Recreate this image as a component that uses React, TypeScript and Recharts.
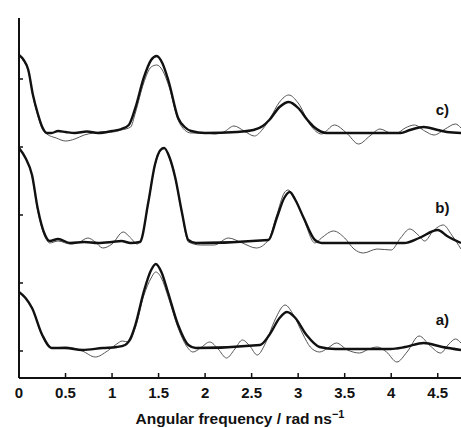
import * as React from "react";
import { Line, LineChart, ReferenceDot, XAxis, YAxis } from "recharts";

// Three stacked spectra (a, b, c): thick = fit, thin = raw transform.
// y is arbitrary intensity; each trace sits on its own baseline.
const xTicks = [0, 0.5, 1, 1.5, 2, 2.5, 3, 3.5, 4, 4.5];
const yTicks = [27, 95, 163, 231, 299];

const baselineA = 30;
const baselineB = 135;
const baselineC = 245;

type Pt = [number, number];

const cThick: Pt[] = [
  [0, 78], [0.05, 73], [0.1, 63], [0.15, 38], [0.2, 20], [0.25, 6], [0.3, 0],
  [0.35, 0], [0.42, 2], [0.5, 1], [0.6, 0], [0.73, 1.5], [0.85, 0], [1.0, 2],
  [1.1, 4], [1.18, 8], [1.25, 25], [1.34, 55], [1.42, 73], [1.48, 77], [1.54, 70],
  [1.61, 51], [1.71, 15], [1.78, 6], [1.85, 2], [2.0, 0], [2.34, 1], [2.52, 3],
  [2.62, 7], [2.69, 13], [2.8, 26], [2.9, 31], [3.0, 25], [3.1, 13], [3.17, 6],
  [3.31, 0], [4.1, 0], [4.2, 3], [4.35, 6], [4.5, 3], [4.6, 1], [4.75, 0],
];

const cThin: Pt[] = [
  [0, 78], [0.05, 72], [0.1, 62], [0.15, 37], [0.2, 18], [0.25, 4], [0.3, -1],
  [0.4, -5], [0.5, -8], [0.6, -6], [0.7, -2], [0.8, 0], [0.9, 1], [1.0, 1],
  [1.1, 3], [1.2, 6], [1.25, 20], [1.34, 50], [1.42, 66], [1.48, 68], [1.54, 63],
  [1.61, 47], [1.71, 13], [1.78, 3], [1.85, 0], [2.0, 0], [2.1, -1], [2.2, 1],
  [2.31, 7], [2.42, 2], [2.53, -3], [2.62, 4], [2.7, 15], [2.8, 31], [2.9, 38],
  [3.0, 30], [3.13, 8], [3.25, -1], [3.39, 8], [3.52, 0], [3.65, -11], [3.77, -3],
  [3.88, 4], [4.0, 0], [4.06, 0], [4.15, 5], [4.25, 8], [4.36, 2], [4.46, -2],
  [4.58, 4], [4.69, 9], [4.75, 5],
];

const bThick: Pt[] = [
  [0, 95], [0.07, 85], [0.14, 68], [0.2, 35], [0.28, 8], [0.33, 2], [0.42, 4],
  [0.55, 0], [0.7, 1], [0.85, 0], [1.0, 1], [1.1, 2], [1.2, 0], [1.3, 1],
  [1.39, 41], [1.46, 78], [1.52, 93], [1.56, 95], [1.62, 85], [1.68, 65],
  [1.75, 31], [1.82, 3], [1.9, 0], [2.68, 3], [2.77, 25], [2.85, 45], [2.91, 51],
  [2.97, 43], [3.06, 25], [3.18, 3], [3.25, 0], [4.14, 0], [4.3, 5], [4.5, 13],
  [4.6, 7], [4.75, 0],
];

const bThin: Pt[] = [
  [0, 95], [0.07, 85], [0.14, 67], [0.2, 33], [0.28, 6], [0.33, 0], [0.42, 2],
  [0.55, -1], [0.65, 1], [0.74, 5], [0.82, 1], [0.9, -5], [1.0, -1], [1.12, 11],
  [1.2, 5], [1.27, -1], [1.33, 10], [1.39, 40], [1.46, 77], [1.52, 92], [1.56, 95],
  [1.62, 84], [1.68, 64], [1.75, 30], [1.82, 1], [1.95, -2], [2.1, -2], [2.25, 5],
  [2.4, 0], [2.55, -5], [2.68, 3], [2.77, 28], [2.85, 50], [2.89, 53], [2.97, 44],
  [3.06, 24], [3.18, 0], [3.25, 5], [3.38, 12], [3.5, 5], [3.6, -6], [3.7, -10],
  [3.85, -6], [4.0, -7], [4.1, 5], [4.2, 14], [4.29, 8], [4.36, 2], [4.45, 12],
  [4.56, 18], [4.65, 8], [4.75, -6],
];

const aThick: Pt[] = [
  [0, 56], [0.07, 50], [0.14, 40], [0.25, 13], [0.35, 0], [0.5, 0], [0.68, -2],
  [0.9, 0], [1.05, 1], [1.14, 3], [1.2, 10], [1.25, 23], [1.34, 56], [1.42, 78],
  [1.47, 84], [1.53, 76], [1.6, 56], [1.71, 23], [1.82, 3], [1.9, 0], [2.59, 3],
  [2.69, 13], [2.8, 30], [2.88, 36], [2.97, 30], [3.09, 13], [3.23, 1], [3.4, -1],
  [3.99, -1], [4.15, 1], [4.35, 5], [4.55, 1], [4.75, -2],
];

const aThin: Pt[] = [
  [0, 56], [0.07, 50], [0.14, 40], [0.25, 12], [0.35, 0], [0.5, 1], [0.68, -3],
  [0.82, -9], [0.95, -3], [1.05, 4], [1.11, 7], [1.18, 6], [1.25, 20], [1.34, 52],
  [1.42, 70], [1.47, 76], [1.53, 70], [1.6, 52], [1.71, 20], [1.8, 2], [1.87, -4],
  [1.95, 0], [2.05, 6], [2.14, -1], [2.23, -10], [2.32, -1], [2.4, 8], [2.48, 2],
  [2.56, -7], [2.65, 5], [2.75, 28], [2.86, 43], [2.95, 33], [3.05, 14], [3.13, 1],
  [3.23, -4], [3.32, 0], [3.41, 5], [3.53, -2], [3.66, -5], [3.76, -1], [3.85, 1],
  [3.95, -4], [4.06, -14], [4.17, -4], [4.3, 12], [4.42, 2], [4.53, -5], [4.62, 4],
  [4.69, 9], [4.75, 5],
];

const traceLabels = [
  { text: "c)", x: 4.55, y: 268 },
  { text: "b)", x: 4.55, y: 170 },
  { text: "a)", x: 4.55, y: 58 },
];

const FONT = "'Liberation Sans', Arial, Helvetica, sans-serif";
const INK = "#111";

function toRows(pts: Pt[], base: number) {
  return pts.map(([x, y]) => ({ x, y: y + base }));
}

function XTick(props: any) {
  const { x, y, payload } = props;
  return (
    <g>
      <line x1={x} x2={x} y1={y} y2={y - 5} stroke={INK} strokeWidth={1.5} />
      <text
        x={x}
        y={y + 20}
        textAnchor="middle"
        fontFamily={FONT}
        fontWeight="bold"
        fontSize={15}
        fill={INK}
      >
        {payload.value}
      </text>
    </g>
  );
}

function YTick(props: any) {
  const { x, y } = props;
  return <line x1={x} x2={x + 4} y1={y} y2={y} stroke={INK} strokeWidth={1.5} />;
}

function AxisTitle(props: any) {
  const vb = props.viewBox;
  return (
    <text
      x={vb.x + vb.width / 2}
      y={vb.y + 46}
      textAnchor="middle"
      fontFamily={FONT}
      fontWeight="bold"
      fontSize={15.5}
      fill={INK}
    >
      Angular frequency / rad ns
      <tspan dy={-6} fontSize={11}>
        −1
      </tspan>
    </text>
  );
}

const series = [
  { key: "cThin", pts: cThin, base: baselineC, thick: false },
  { key: "bThin", pts: bThin, base: baselineB, thick: false },
  { key: "aThin", pts: aThin, base: baselineA, thick: false },
  { key: "cThick", pts: cThick, base: baselineC, thick: true },
  { key: "bThick", pts: bThick, base: baselineB, thick: true },
  { key: "aThick", pts: aThick, base: baselineA, thick: true },
];

export default function App(): React.JSX.Element {
  return (
    <div style={{ position: "absolute", left: 0, top: 0, background: "#fff" }}>
      <LineChart width={461} height={428} margin={{ top: 18, right: 0, bottom: 0, left: 0 }}>
        <XAxis
          type="number"
          dataKey="x"
          domain={[0, 4.75]}
          ticks={xTicks}
          allowDataOverflow
          height={50}
          tickLine={false}
          tickSize={0}
          tickMargin={0}
          tick={<XTick />}
          axisLine={{ stroke: INK, strokeWidth: 2 }}
          label={<AxisTitle />}
        />
        <YAxis
          type="number"
          domain={[0, 360]}
          ticks={yTicks}
          allowDataOverflow
          width={19}
          tickLine={false}
          tickSize={0}
          tickMargin={0}
          tick={<YTick />}
          axisLine={{ stroke: INK, strokeWidth: 2 }}
        />
        {series.map((s) => (
          <Line
            key={s.key}
            data={toRows(s.pts, s.base)}
            dataKey="y"
            type="monotone"
            stroke={s.thick ? INK : "#555"}
            strokeWidth={s.thick ? 2.4 : 1}
            dot={false}
            activeDot={false}
            isAnimationActive={false}
          />
        ))}
        {traceLabels.map((l) => (
          <ReferenceDot
            key={l.text}
            x={l.x}
            y={l.y}
            r={0}
            fill="none"
            stroke="none"
            label={{
              value: l.text,
              position: "center",
              fontFamily: FONT,
              fontWeight: "bold",
              fontSize: 15,
              fill: INK,
            }}
          />
        ))}
      </LineChart>
    </div>
  );
}
